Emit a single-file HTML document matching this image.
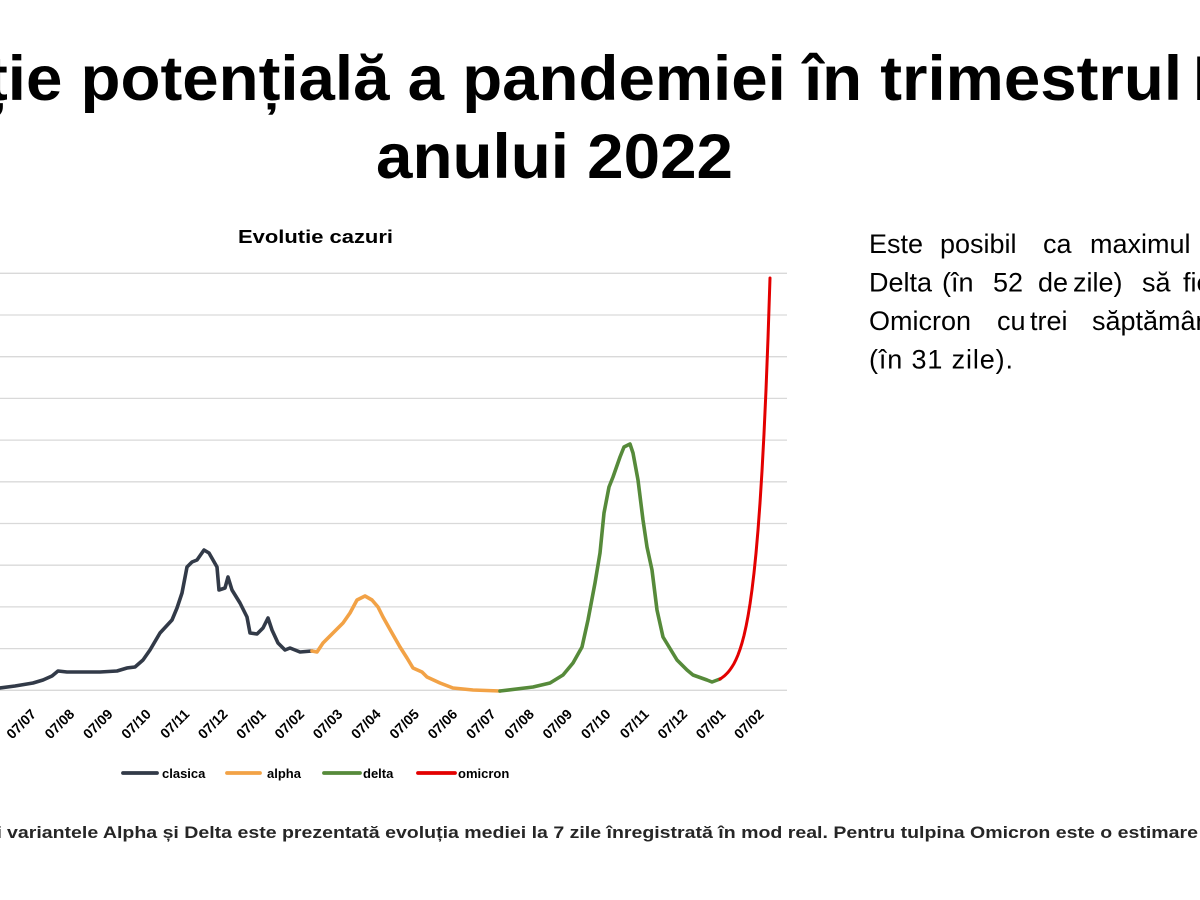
<!DOCTYPE html>
<html>
<head>
<meta charset="utf-8">
<style>
  html, body { margin:0; padding:0; background:#fff; }
  svg { display:block; }
  .t { font-family:"Liberation Sans", sans-serif; }
</style>
</head>
<body>
<svg width="1200" height="900" viewBox="0 0 1200 900" xmlns="http://www.w3.org/2000/svg">
  <rect width="1200" height="900" fill="#ffffff"/>

  <!-- Title -->
  <text class="t" x="-14" y="100" font-size="63" font-weight="bold" fill="#000" textLength="1196" lengthAdjust="spacingAndGlyphs">ție potențială a pandemiei în trimestrul</text>
  <text class="t" x="1193" y="100" font-size="63" font-weight="bold" fill="#000">I</text>
  <text class="t" x="376" y="178" font-size="63" font-weight="bold" fill="#000" textLength="357" lengthAdjust="spacingAndGlyphs">anului 2022</text>

  <!-- Chart title -->
  <text class="t" x="238" y="243" font-size="18" font-weight="bold" fill="#000" textLength="155" lengthAdjust="spacingAndGlyphs">Evolutie cazuri</text>

  <!-- Gridlines -->
  <g stroke="#d9d9d9" stroke-width="1.3">
    <line x1="0" x2="787" y1="273.3" y2="273.3"/>
    <line x1="0" x2="787" y1="315.0" y2="315.0"/>
    <line x1="0" x2="787" y1="356.7" y2="356.7"/>
    <line x1="0" x2="787" y1="398.4" y2="398.4"/>
    <line x1="0" x2="787" y1="440.1" y2="440.1"/>
    <line x1="0" x2="787" y1="481.8" y2="481.8"/>
    <line x1="0" x2="787" y1="523.5" y2="523.5"/>
    <line x1="0" x2="787" y1="565.2" y2="565.2"/>
    <line x1="0" x2="787" y1="606.9" y2="606.9"/>
    <line x1="0" x2="787" y1="648.6" y2="648.6"/>
    <line x1="0" x2="787" y1="690.3" y2="690.3"/>
  </g>

  <!-- Series -->
  <g fill="none" stroke-linejoin="round" stroke-linecap="round">
    <polyline stroke="#323a48" stroke-width="3.6" points="-2,688.5 0,688 15,686 33,683 43,680 52,676 58,671 67,672 87,672 100,672 117,671 127,668 135,667 143,660 150,650 160,633 172,620 177,608 182,593 187,567 192,562 197,560 204,550 209,553 217,567 219,590 225,588 228,577 232,590 240,603 247,617 250,633 257,634 263,628 268,618 272,630 278,643 285,650 290,648 300,652 312,651"/>
    <polyline stroke="#f2a246" stroke-width="3.6" points="312,651 317,652 323,643 333,633 343,623 350,613 357,600 365,596 372,600 378,607 383,617 392,633 400,647 407,658 413,668 422,672 427,677 440,683 453,688 473,690 500,691"/>
    <polyline stroke="#568a3a" stroke-width="3.6" points="500,691 533,687 550,683 563,675 573,663 582,647 588,620 595,583 600,553 604,513 609,487 613,477 620,457 624,447 630,444 633,453 638,480 643,520 647,547 652,570 657,610 663,637 677,660 687,670 693,675 707,680 712,682 720,679"/>
    <polyline stroke="#e30000" stroke-width="3" points="720,679 722,677.7 724,676.2 726,674.4 728,672.3 730,669.8 732,666.9 734,663.6 736,659.6 738,654.9 740,649.4 742,643 744,635.5 746,626.6 748,616.2 750,604 752,589.7 754,572.9 756,553.3 758,530.1 760,503 762,471.1 764,433.8 766,389.9 768,338.4 770,278"/>
  </g>

  <!-- X axis labels -->
  <g class="t" font-size="14" font-weight="bold" fill="#000" text-anchor="end">
    <text transform="translate(37,715) rotate(-45)">07/07</text>
    <text transform="translate(75.3,715) rotate(-45)">07/08</text>
    <text transform="translate(113.6,715) rotate(-45)">07/09</text>
    <text transform="translate(151.9,715) rotate(-45)">07/10</text>
    <text transform="translate(190.2,715) rotate(-45)">07/11</text>
    <text transform="translate(228.5,715) rotate(-45)">07/12</text>
    <text transform="translate(266.8,715) rotate(-45)">07/01</text>
    <text transform="translate(305.1,715) rotate(-45)">07/02</text>
    <text transform="translate(343.4,715) rotate(-45)">07/03</text>
    <text transform="translate(381.7,715) rotate(-45)">07/04</text>
    <text transform="translate(420,715) rotate(-45)">07/05</text>
    <text transform="translate(458.3,715) rotate(-45)">07/06</text>
    <text transform="translate(496.6,715) rotate(-45)">07/07</text>
    <text transform="translate(534.9,715) rotate(-45)">07/08</text>
    <text transform="translate(573.2,715) rotate(-45)">07/09</text>
    <text transform="translate(611.5,715) rotate(-45)">07/10</text>
    <text transform="translate(649.8,715) rotate(-45)">07/11</text>
    <text transform="translate(688.1,715) rotate(-45)">07/12</text>
    <text transform="translate(726.4,715) rotate(-45)">07/01</text>
    <text transform="translate(764.7,715) rotate(-45)">07/02</text>
  </g>

  <!-- Legend -->
  <g stroke-width="3.8" stroke-linecap="round">
    <line x1="123" x2="157" y1="773" y2="773" stroke="#323a48"/>
    <line x1="227" x2="260" y1="773" y2="773" stroke="#f2a246"/>
    <line x1="324" x2="360" y1="773" y2="773" stroke="#568a3a"/>
    <line x1="418" x2="455" y1="773" y2="773" stroke="#e30000"/>
  </g>
  <g class="t" font-size="13" font-weight="bold" fill="#000">
    <text x="162" y="778">clasica</text>
    <text x="267" y="778">alpha</text>
    <text x="363" y="778">delta</text>
    <text x="458" y="778">omicron</text>
  </g>

  <!-- Right paragraph -->
  <g class="t" font-size="27" fill="#000">
    <text x="869" y="253">Este</text>
    <text x="940" y="253">posibil</text>
    <text x="1043" y="253">ca</text>
    <text x="1090" y="253">maximul</text>

    <text x="869" y="291.5">Delta</text>
    <text x="942" y="291.5">(în</text>
    <text x="993" y="291.5">52</text>
    <text x="1038" y="291.5">de</text>
    <text x="1073" y="291.5">zile)</text>
    <text x="1142" y="291.5">să</text>
    <text x="1183" y="291.5">fie</text>

    <text x="869" y="330">Omicron</text>
    <text x="997" y="330">cu</text>
    <text x="1030" y="330">trei</text>
    <text x="1092" y="330">săptămâni</text>

    <text x="869" y="368.5" textLength="144" lengthAdjust="spacing">(în 31 zile).</text>
  </g>

  <!-- Footnote -->
  <g class="t" font-size="17" font-weight="bold" fill="#262626">
    <text x="-3" y="838">i</text>
    <text x="7" y="838" textLength="1191" lengthAdjust="spacingAndGlyphs">variantele Alpha și Delta este prezentată evoluția mediei la 7 zile înregistrată în mod real. Pentru tulpina Omicron este o estimare</text>
  </g>
</svg>
</body>
</html>
